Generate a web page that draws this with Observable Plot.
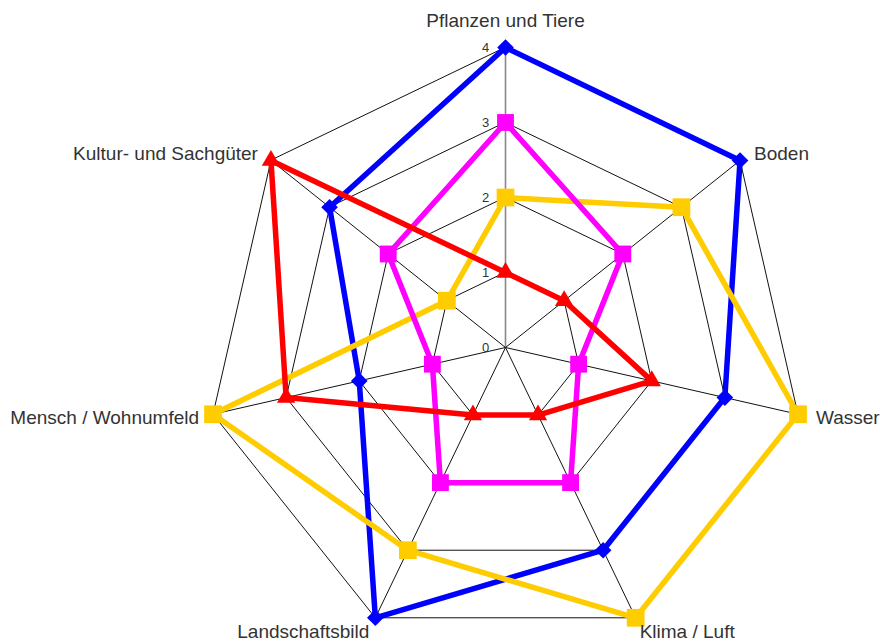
<!DOCTYPE html>
<html><head><meta charset="utf-8">
<script src="https://cdn.jsdelivr.net/npm/d3@7"></script>
<script src="https://cdn.jsdelivr.net/npm/@observablehq/plot@0.6"></script>
<style>body{margin:0;background:#fff} #chart svg{display:block}</style>
</head><body><div id="chart"></div>
<script>
// ---- data ----
const axes = ["Pflanzen und Tiere","Boden","Wasser","Klima / Luft","Landschaftsbild","Mensch / Wohnumfeld","Kultur- und Sachgüter"];
const tickValues = [0,1,2,3,4];
const tickLabels = ["0","1","2","3","4"];
const seriesNames = ["Reihe 1","Reihe 2","Reihe 3","Reihe 4"];
const blueValues    = [4,4,3,3,4,2,3];
const yellowValues  = [2,3,4,4,3,4,1];
const magentaValues = [3,2,1,2,2,1,2];
const redValues     = [1,1,2,1,1,3,4];

// ---- styles ----
const seriesStyles = [
  {values: blueValues,    color:"#0000FF", symbol:"diamond2", r:7.5},
  {values: yellowValues,  color:"#FFCC00", symbol:"square",   r:10},
  {values: magentaValues, color:"#FF00FF", symbol:"square",   r:9.5},
  {values: redValues,     color:"#FF0000", symbol:"triangle", r:6.8}
];
const labelOffsets = [
  {dx:0,   dy:-27, anchor:"middle"},
  {dx:14,  dy:-7,  anchor:"start"},
  {dx:18,  dy:4,   anchor:"start"},
  {dx:4,   dy:14,  anchor:"start"},
  {dx:-6,  dy:14,  anchor:"end"},
  {dx:-14, dy:4,   anchor:"end"},
  {dx:-13, dy:-7,  anchor:"end"}
];

const n = axes.length;
const maxV = tickValues[tickValues.length-1];
const ang = i => 2*Math.PI*i/n;
const px = (i,v) => v*Math.sin(ang(i));
const py = (i,v) => v*Math.cos(ang(i));

const rings = tickValues.filter(v=>v>0).flatMap(l => axes.map((a,i)=>({level:l,i})));
const spokes = axes.map((a,i)=>({i}));

const unit = 75, cx = 505, cy = 347, W = 880, H = 643;
const font = "Liberation Sans, Arial, Helvetica, sans-serif";

const marks = [
  Plot.line(rings, {x:d=>px(d.i,d.level), y:d=>py(d.i,d.level), z:"level", curve:"linear-closed", stroke:"#111", strokeWidth:1}),
  Plot.link(spokes, {x1:()=>0, y1:()=>0, x2:d=>px(d.i,maxV), y2:d=>py(d.i,maxV), stroke:d=>d.i===0?"#888":"#111", strokeWidth:d=>d.i===0?1.6:1}),
  Plot.text(tickValues, {x:()=>0, y:d=>d, text:(d,k)=>tickLabels[k], dx:-20, dy:0, fontSize:13, fill:"#333", fontFamily:font})
];
seriesStyles.forEach((s,k) => {
  const pts = s.values.map((v,i)=>({series:seriesNames[k], i, v}));
  marks.push(Plot.line(pts, {x:d=>px(d.i,d.v), y:d=>py(d.i,d.v), curve:"linear-closed", stroke:s.color, strokeWidth:5.5, strokeLinejoin:"miter"}));
  marks.push(Plot.dot(pts, {x:d=>px(d.i,d.v), y:d=>py(d.i,d.v), symbol:s.symbol, r:s.r, fill:s.color, stroke:"none"}));
});
axes.forEach((a,i) => {
  const o = labelOffsets[i];
  marks.push(Plot.text([a], {x:()=>px(i,maxV), y:()=>py(i,maxV), text:d=>d, dx:o.dx, dy:o.dy, textAnchor:o.anchor, fontSize:19, fill:"#333", fontFamily:font}));
});

const chart = Plot.plot({
  width: W, height: H, margin: 0,
  x: {domain:[-cx/unit, (W-cx)/unit], axis:null},
  y: {domain:[-(H-cy)/unit, cy/unit], axis:null},
  style: {background:"#fff", fontFamily:font},
  marks
});
document.getElementById("chart").append(chart);
</script>
</body></html>
